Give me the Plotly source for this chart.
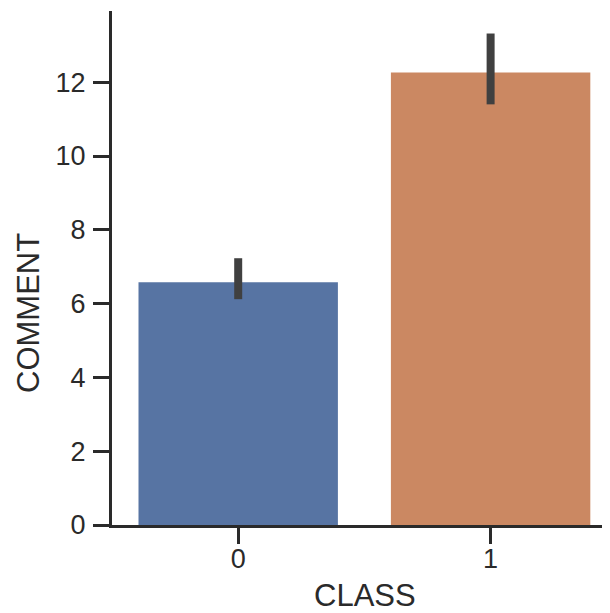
import plotly.graph_objects as go

categories = ["0", "1"]
means = [6.58, 12.26]
ci_low = [6.12, 11.40]
ci_high = [7.23, 13.32]
colors = ["#5774a3", "#cb8862"]
y_ticks = [0, 2, 4, 6, 8, 10, 12]

x_pos = list(range(len(categories)))
err_plus = [h - m for h, m in zip(ci_high, means)]
err_minus = [m - l for m, l in zip(means, ci_low)]

fig = go.Figure()
fig.add_trace(go.Bar(
    x=x_pos, y=means, width=0.79,
    marker=dict(color=colors, line=dict(width=0)),
    error_y=dict(type="data", symmetric=False, array=err_plus, arrayminus=err_minus,
                 color="#404040", thickness=8, width=0),
    showlegend=False,
))

font_color = "#2a2a2a"
# page body has an 8px default margin, so the figure is 8px smaller each way
fig.update_layout(
    width=602, height=605,
    margin=dict(l=104, r=0, t=3, b=88),
    plot_bgcolor="white", paper_bgcolor="white",
    font=dict(family="Liberation Sans, Arial, sans-serif", color=font_color, size=27),
    xaxis=dict(
        range=[-0.5, 1.473], tickmode="array", tickvals=x_pos, ticktext=categories,
        showgrid=False, zeroline=False, showline=True, linecolor="#2a2a2a", linewidth=3,
        ticks="outside", ticklen=16, tickwidth=3, tickcolor="#2a2a2a",
        tickfont=dict(size=27), ticklabelstandoff=-8,
    ),
    yaxis=dict(
        range=[0, 13.93], tickmode="array", tickvals=y_ticks,
        showgrid=False, zeroline=False, showline=True, linecolor="#2a2a2a", linewidth=3,
        ticks="outside", ticklen=16, tickwidth=3, tickcolor="#2a2a2a",
        tickfont=dict(size=27), ticklabelstandoff=2,
    ),
    annotations=[
        dict(text="CLASS", xref="paper", yref="paper",
             x=(357 - 104) / 498, y=-(587 - 517) / 514, xanchor="center", yanchor="middle",
             showarrow=False, font=dict(size=31)),
        dict(text="COMMENT", xref="paper", yref="paper", textangle=-90,
             x=-(104 - 20) / 498, y=(517 - 305) / 514, xanchor="center", yanchor="middle",
             showarrow=False, font=dict(size=31)),
    ],
)

fig.write_html("out.html")
